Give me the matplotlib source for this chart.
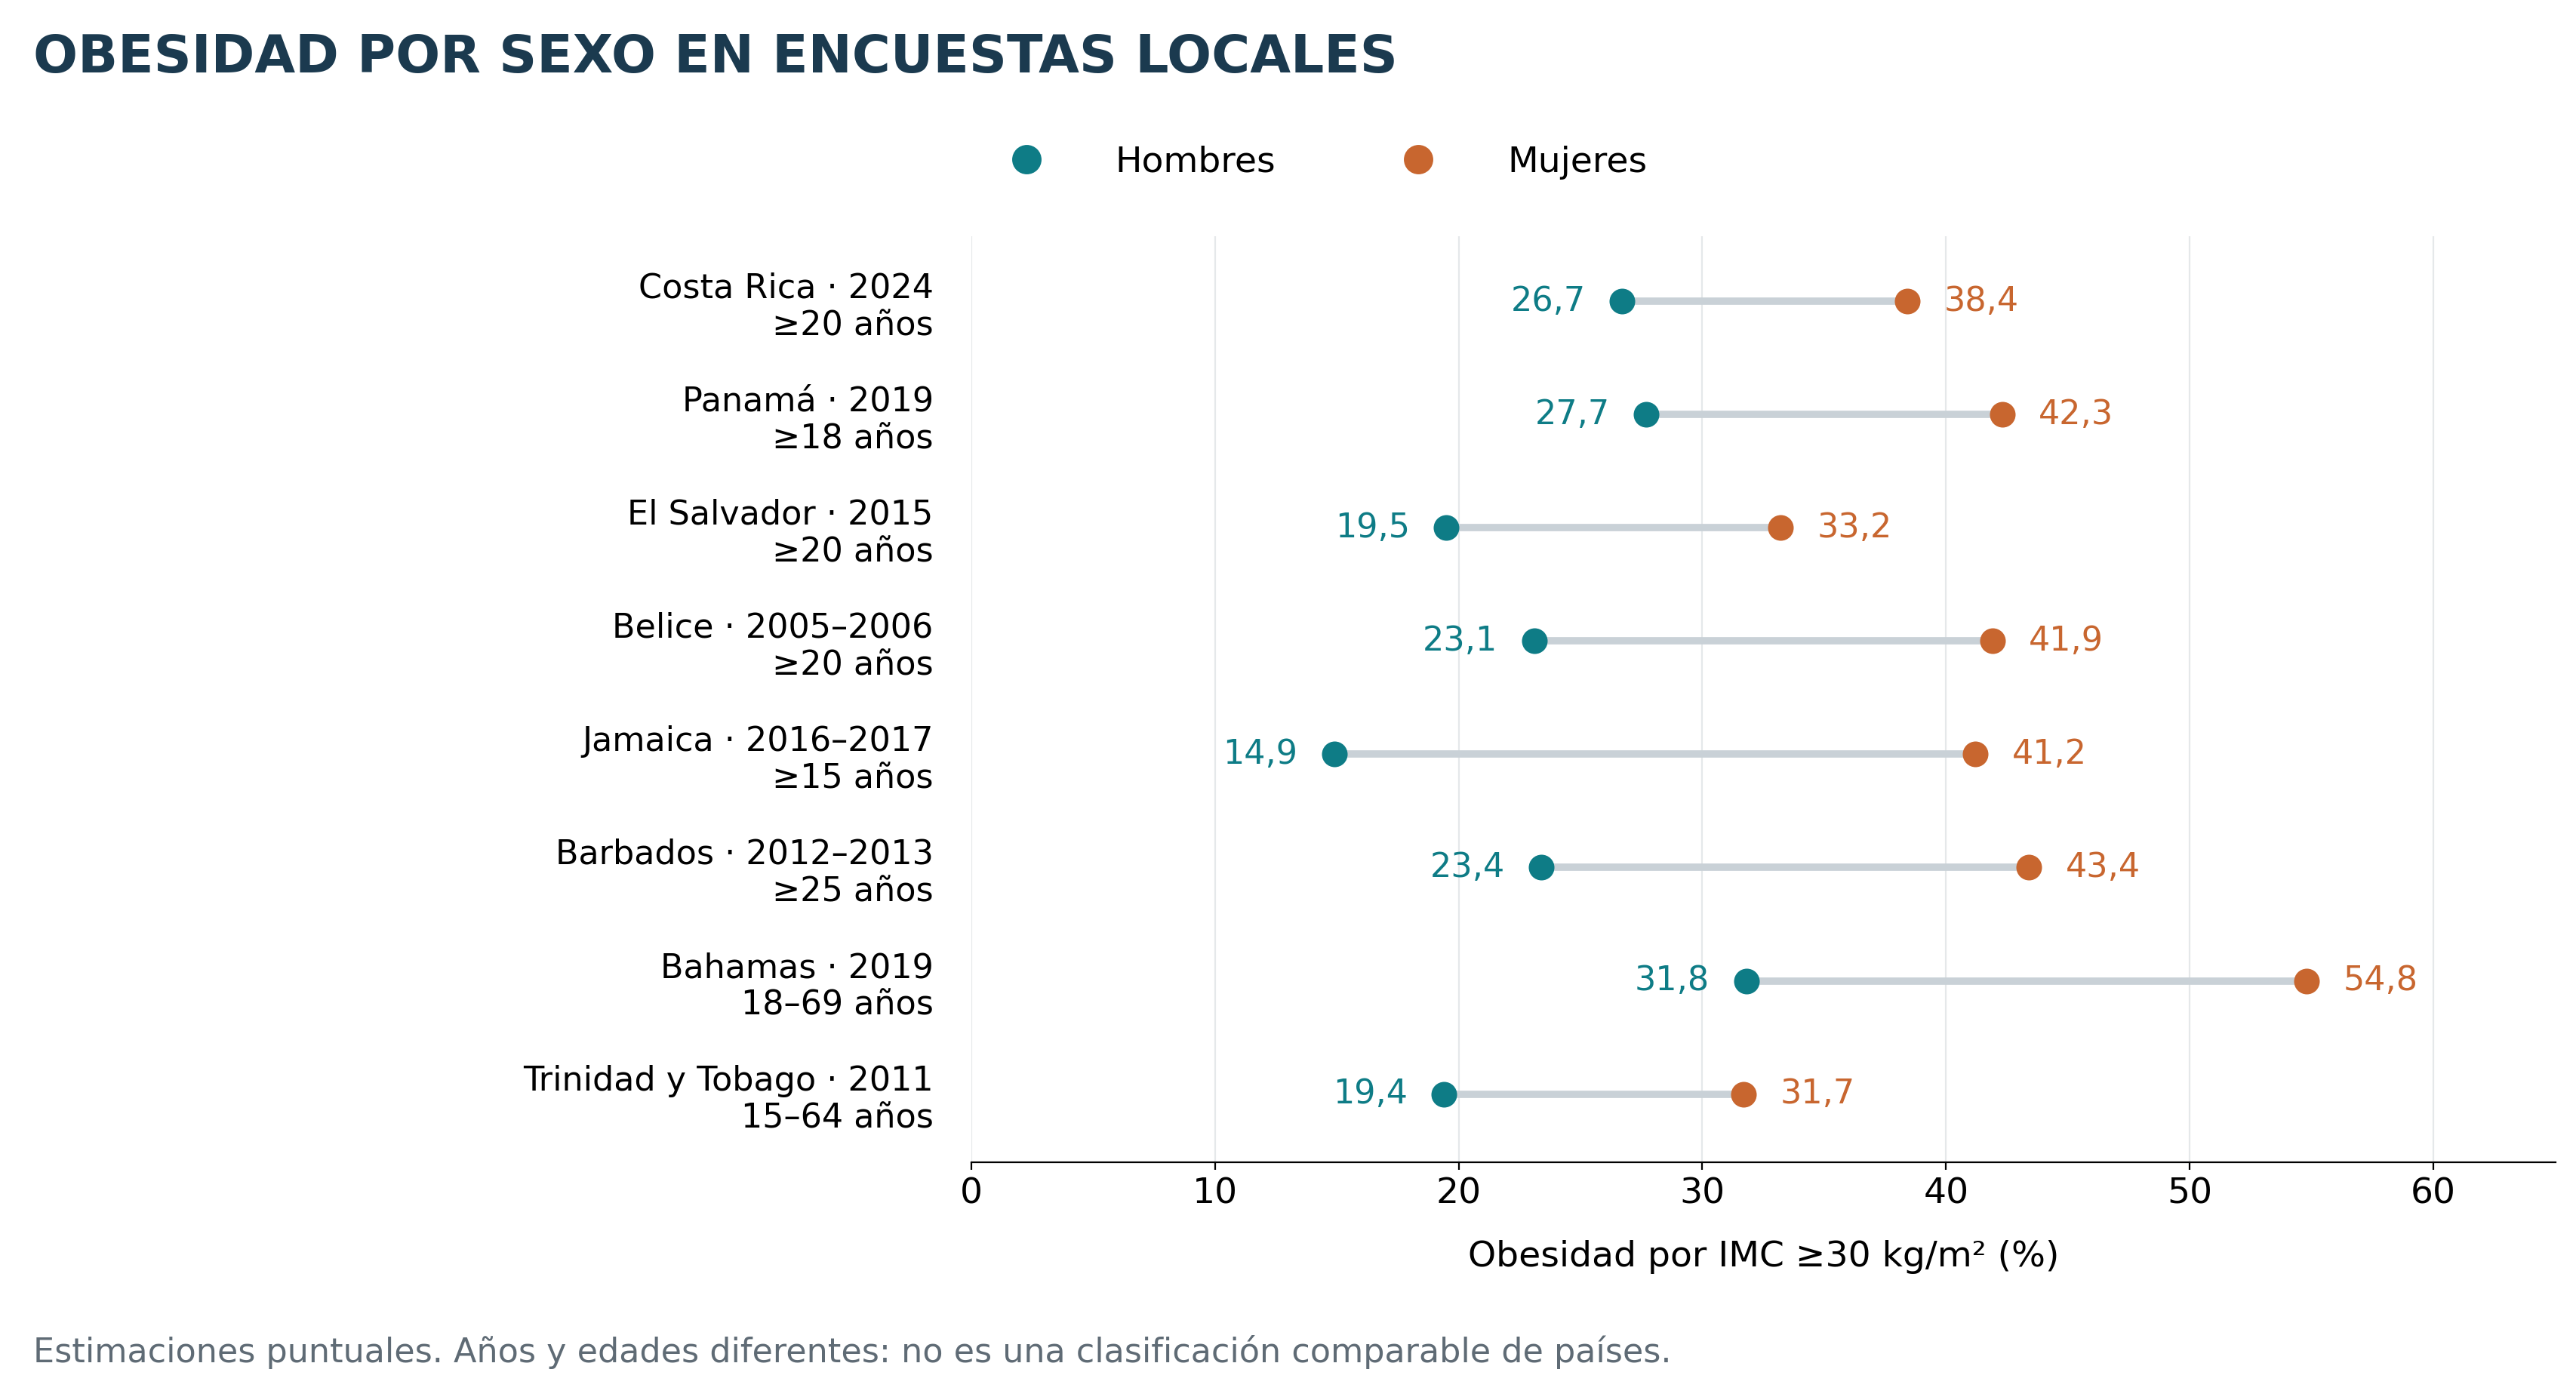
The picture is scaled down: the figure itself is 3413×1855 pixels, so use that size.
import matplotlib
matplotlib.use("Agg")
import matplotlib.pyplot as plt
from matplotlib.lines import Line2D

countries = ["Costa Rica · 2024\n≥20 años", "Panamá · 2019\n≥18 años", "El Salvador · 2015\n≥20 años",
             "Belice · 2005–2006\n≥20 años", "Jamaica · 2016–2017\n≥15 años", "Barbados · 2012–2013\n≥25 años",
             "Bahamas · 2019\n18–69 años", "Trinidad y Tobago · 2011\n15–64 años"]
hombres = [26.7, 27.7, 19.5, 23.1, 14.9, 23.4, 31.8, 19.4]
mujeres = [38.4, 42.3, 33.2, 41.9, 41.2, 43.4, 54.8, 31.7]
xticks = [0, 10, 20, 30, 40, 50, 60]

TEAL = "#0E7C86"
ORANGE = "#C8662F"
fmt = lambda v: f"{v:.1f}".replace(".", ",")

fig = plt.figure(figsize=(3413/200, 1855/200), dpi=200)
ax = fig.add_axes([0.377, 0.170, 0.615, 0.661])
n = len(countries)
ys = [n - 1 - i for i in range(n)]
for y, h, m in zip(ys, hombres, mujeres):
    ax.plot([h, m], [y, y], color="#C9D1D7", lw=3.5, zorder=1, solid_capstyle="butt")
    ax.scatter([h], [y], s=150, color=TEAL, zorder=3, linewidths=0)
    ax.scatter([m], [y], s=150, color=ORANGE, zorder=3, linewidths=0)
    ax.text(h - 1.5, y, fmt(h), color=TEAL, fontsize=16, ha="right", va="center")
    ax.text(m + 1.5, y, fmt(m), color=ORANGE, fontsize=16, ha="left", va="center")

ax.set_yticks(ys)
ax.set_yticklabels(countries, fontsize=16, linespacing=1.2)
ax.tick_params(axis="y", length=0, pad=18)
ax.set_xlim(0, 65)
ax.set_ylim(-0.6, n - 1 + 0.57)
ax.set_xticks(xticks)
ax.tick_params(axis="x", labelsize=17)
ax.grid(axis="x", color="#E5E8EA", lw=0.8)
ax.set_axisbelow(True)
for s in ["top", "right", "left"]:
    ax.spines[s].set_visible(False)
ax.set_xlabel("Obesidad por IMC ≥30 kg/m² (%)", fontsize=17, labelpad=14)

fig.text(0.013, 0.959, "OBESIDAD POR SEXO EN ENCUESTAS LOCALES", fontsize=25, fontweight="bold",
         color="#1B3A4F", va="center")
fig.text(0.013, 0.034, "Estimaciones puntuales. Años y edades diferentes: no es una clasificación comparable de países.",
         fontsize=16, color="#5F6B75", va="center")

handles = [Line2D([], [], marker="o", ls="", color=TEAL, markersize=13, label="Hombres"),
           Line2D([], [], marker="o", ls="", color=ORANGE, markersize=13, label="Mujeres")]
fig.legend(handles=handles, loc="center", bbox_to_anchor=(0.512, 0.884), ncol=2, frameon=False,
           fontsize=17, columnspacing=3, handletextpad=1.5)
fig.savefig("out.png", dpi=200)
